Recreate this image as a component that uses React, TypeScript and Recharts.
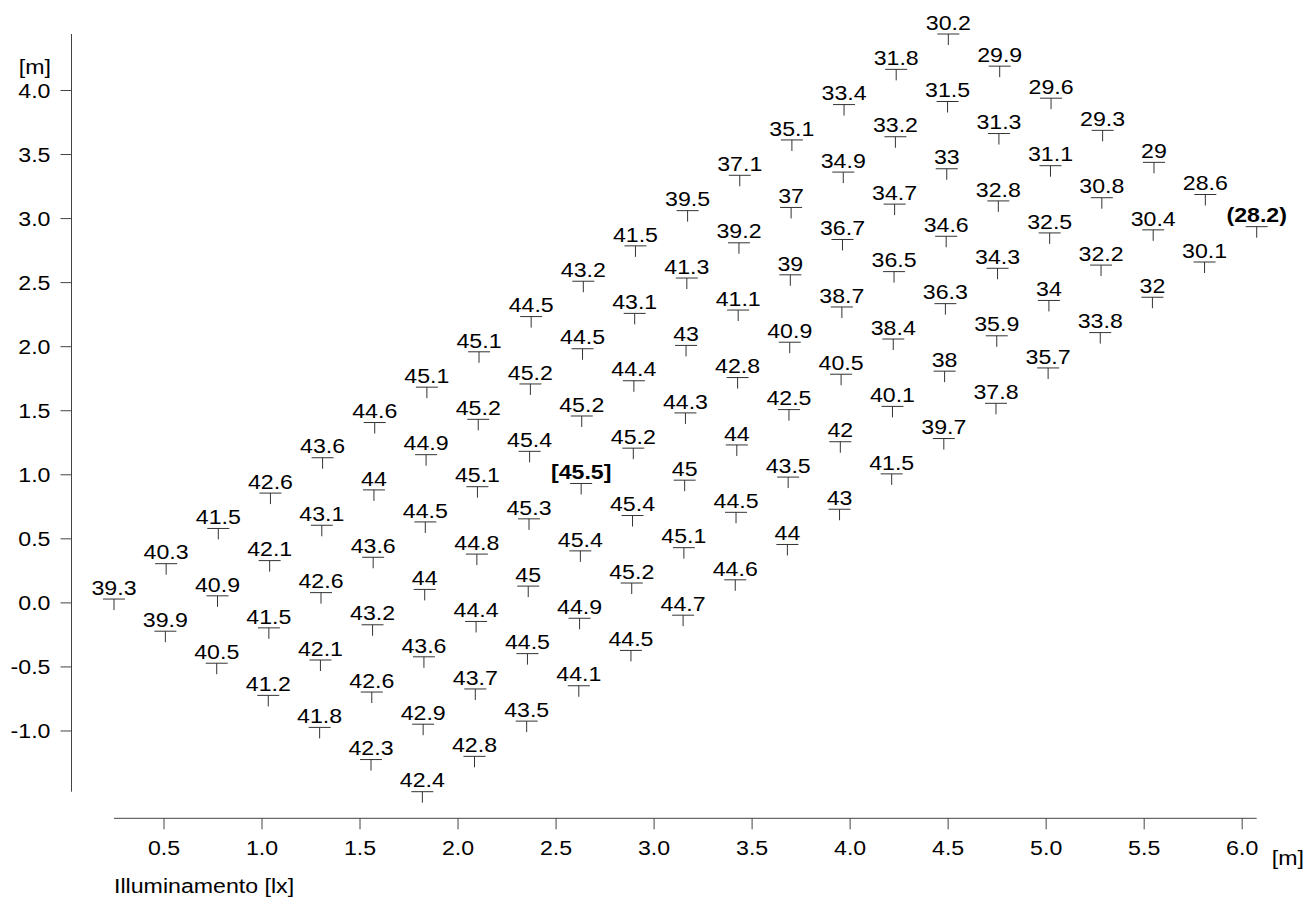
import React from "react"
import { ScatterChart, Scatter, XAxis, YAxis } from "recharts"

// illuminance readings [lx], one array per grid row (left corner -> top corner)
const luxRow1 = [39.3, 40.3, 41.5, 42.6, 43.6, 44.6, 45.1, 45.1, 44.5, 43.2, 41.5, 39.5, 37.1, 35.1, 33.4, 31.8, 30.2]
const luxRow2 = [39.9, 40.9, 42.1, 43.1, 44, 44.9, 45.2, 45.2, 44.5, 43.1, 41.3, 39.2, 37, 34.9, 33.2, 31.5, 29.9]
const luxRow3 = [40.5, 41.5, 42.6, 43.6, 44.5, 45.1, 45.4, 45.2, 44.4, 43, 41.1, 39, 36.7, 34.7, 33, 31.3, 29.6]
const luxRow4 = [41.2, 42.1, 43.2, 44, 44.8, 45.3, 45.5, 45.2, 44.3, 42.8, 40.9, 38.7, 36.5, 34.6, 32.8, 31.1, 29.3]
const luxRow5 = [41.8, 42.6, 43.6, 44.4, 45, 45.4, 45.4, 45, 44, 42.5, 40.5, 38.4, 36.3, 34.3, 32.5, 30.8, 29]
const luxRow6 = [42.3, 42.9, 43.7, 44.5, 44.9, 45.2, 45.1, 44.5, 43.5, 42, 40.1, 38, 35.9, 34, 32.2, 30.4, 28.6]
const luxRow7 = [42.4, 42.8, 43.5, 44.1, 44.5, 44.7, 44.6, 44, 43, 41.5, 39.7, 37.8, 35.7, 33.8, 32, 30.1, 28.2]
const luxRows = [luxRow1, luxRow2, luxRow3, luxRow4, luxRow5, luxRow6, luxRow7]

// measuring grid [m]: positions along the first row, and the shift of each following row
const gridAlongX = [0.245, 0.511, 0.777, 1.043, 1.309, 1.575, 1.841, 2.107, 2.373, 2.639, 2.905, 3.171, 3.437, 3.703, 3.969, 4.235, 4.501]
const gridAlongY = [0.03, 0.306, 0.581, 0.857, 1.133, 1.408, 1.684, 1.96, 2.235, 2.511, 2.787, 3.062, 3.338, 3.614, 3.89, 4.165, 4.441]
const rowShiftX = [0, 0.262, 0.524, 0.787, 1.049, 1.311, 1.573]
const rowShiftY = [0, -0.251, -0.501, -0.752, -1.002, -1.253, -1.504]

const xTicks = [0.5, 1.0, 1.5, 2.0, 2.5, 3.0, 3.5, 4.0, 4.5, 5.0, 5.5, 6.0]
const yTicks = [-1.0, -0.5, 0.0, 0.5, 1.0, 1.5, 2.0, 2.5, 3.0, 3.5, 4.0]

type Point = { x: number; y: number; lux: number }

const points: Point[] = luxRows.flatMap((row, j) =>
  row.map((lux, i) => ({ x: gridAlongX[i] + rowShiftX[j], y: gridAlongY[i] + rowShiftY[j], lux }))
)
const luxMin = Math.min(...points.map((p) => p.lux))
const luxMax = Math.max(...points.map((p) => p.lux))

const FONT = '"Liberation Sans", Arial, Helvetica, sans-serif'
const FS = 20.5
const STRETCH = 1.13
const INK = "#000"
const AXIS = "#444"

const W = 1308
const H = 899
const MARGIN = { top: 34, right: 51.3, bottom: 0, left: 0 }
const Y_AXIS_W = 71.5
const X_AXIS_H = 80.7
const PAD_LEFT = 42.5
const PAD_BOTTOM = 26.6
const plotH = H - MARGIN.top - MARGIN.bottom - X_AXIS_H

function Txt({ x, y, anchor = "middle", bold = false, children }: any) {
  return (
    <text
      transform={`translate(${x},${y}) scale(${STRETCH},1)`}
      textAnchor={anchor}
      fontFamily={FONT}
      fontSize={FS}
      fontWeight={bold ? 700 : 400}
      fill={INK}
    >
      {children}
    </text>
  )
}

function XTick({ x, y, payload }: any) {
  return <Txt x={x} y={y + FS * 0.716}>{payload.value.toFixed(1)}</Txt>
}

function YTick({ x, y, payload }: any) {
  return (
    <Txt x={x} y={y + FS * 0.358} anchor="end">
      {payload.value.toFixed(1)}
    </Txt>
  )
}

function GridMarker({ cx, cy, payload }: any) {
  const v = payload.lux
  const label = v === luxMin ? `(${v})` : v === luxMax ? `[${v}]` : String(v)
  const bold = v === luxMin || v === luxMax
  return (
    <g>
      <line x1={cx - 11} x2={cx + 11} y1={cy} y2={cy} stroke="#333" strokeWidth={1} />
      <line x1={cx} x2={cx} y1={cy} y2={cy + 11} stroke="#333" strokeWidth={1} />
      <Txt x={cx} y={cy - 4.3} bold={bold}>
        {label}
      </Txt>
    </g>
  )
}

export default function App() {
  return (
    <div style={{ width: W, height: H, background: "#fff" }}>
      <style>{"body{margin:0}"}</style>
      <ScatterChart width={W} height={H} margin={MARGIN}>
        <XAxis
          type="number"
          dataKey="x"
          domain={["dataMin", "dataMax"]}
          ticks={xTicks}
          interval={0}
          height={X_AXIS_H}
          padding={{ left: PAD_LEFT, right: 0 }}
          tickSize={11}
          tickMargin={11}
          axisLine={{ stroke: AXIS, strokeDasharray: `0 ${PAD_LEFT} 3000` }}
          tickLine={{ stroke: AXIS }}
          tick={(p: any) => <XTick {...p} />}
        />
        <YAxis
          type="number"
          dataKey="y"
          domain={["dataMin", "dataMax"]}
          ticks={yTicks}
          interval={0}
          width={Y_AXIS_W}
          padding={{ top: 0, bottom: PAD_BOTTOM }}
          tickSize={11}
          tickMargin={10}
          axisLine={{ stroke: AXIS, strokeDasharray: `${plotH - PAD_BOTTOM} 3000` }}
          tickLine={{ stroke: AXIS }}
          tick={(p: any) => <YTick {...p} />}
        />
        <Scatter data={points} isAnimationActive={false} shape={(p: any) => <GridMarker {...p} />} />
        <Txt x={51} y={74} anchor="end">[m]</Txt>
        <Txt x={1271.7} y={864.5} anchor="start">[m]</Txt>
        <Txt x={114} y={892.7} anchor="start">Illuminamento [lx]</Txt>
      </ScatterChart>
    </div>
  )
}
